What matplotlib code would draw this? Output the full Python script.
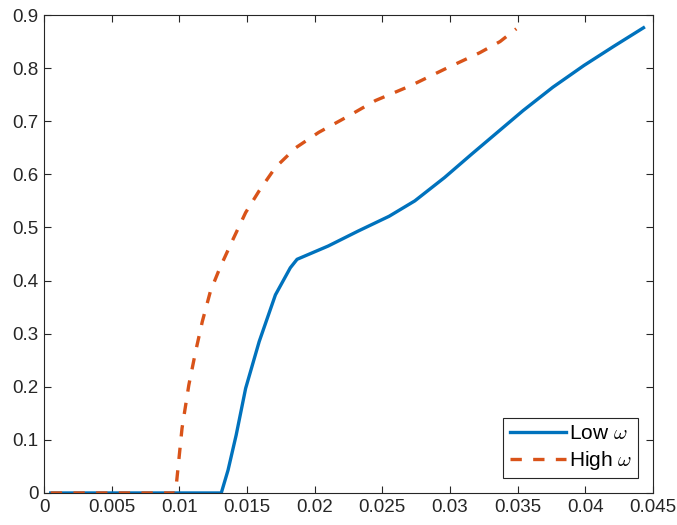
import matplotlib
matplotlib.use("Agg")
import matplotlib.pyplot as plt


# ==========================
# Data
# ==========================

low_x = [0.0005, 0.0131, 0.0136, 0.0142, 0.0149, 0.0159, 0.0171, 0.0182, 0.0187,
         0.0210, 0.0232, 0.0255, 0.0274, 0.0296, 0.0316, 0.0335, 0.0354, 0.0376,
         0.0399, 0.0421, 0.0443]
low_y = [0.0, 0.0, 0.043, 0.109, 0.197, 0.285, 0.373, 0.424, 0.440,
         0.465, 0.493, 0.521, 0.550, 0.594, 0.638, 0.679, 0.720, 0.764,
         0.805, 0.841, 0.876]

high_x = [0.0005, 0.0097, 0.0098, 0.0102, 0.0107, 0.0112, 0.0117, 0.0123, 0.0130,
          0.0139, 0.0149, 0.0159, 0.0171, 0.0186, 0.0203, 0.0223, 0.0245, 0.0271,
          0.0296, 0.0322, 0.0337, 0.0349]
high_y = [0.0, 0.0, 0.021, 0.122, 0.203, 0.266, 0.323, 0.380, 0.424,
          0.474, 0.528, 0.569, 0.613, 0.650, 0.679, 0.707, 0.739, 0.767,
          0.798, 0.829, 0.850, 0.874]

x_ticks = [0, 0.005, 0.01, 0.015, 0.02, 0.025, 0.03, 0.035, 0.04, 0.045]
x_labels = ["0", "0.005", "0.01", "0.015", "0.02", "0.025", "0.03", "0.035", "0.04", "0.045"]
y_ticks = [0, 0.1, 0.2, 0.3, 0.4, 0.5, 0.6, 0.7, 0.8, 0.9]
y_labels = ["0", "0.1", "0.2", "0.3", "0.4", "0.5", "0.6", "0.7", "0.8", "0.9"]


# ==========================
# Style
# ==========================

plt.rcParams["font.family"] = ["Liberation Sans", "DejaVu Sans"]
plt.rcParams["mathtext.fontset"] = "cm"
grey = "#262626"


# ==========================
# Plot
# ==========================

fig = plt.figure(figsize=(6.77, 5.25), dpi=100)
ax = fig.add_axes([0.065, 0.061, 0.8995, 0.9104])

ax.plot(low_x, low_y, color="#0072BD", lw=2.4, label=r"Low $\omega$")
ax.plot(high_x, high_y, color="#D95319", lw=2.4, dashes=(3.4, 3.4),
        label=r"High $\omega$")

ax.set_xlim(0, 0.045)
ax.set_ylim(0, 0.9)
ax.set_xticks(x_ticks)
ax.set_xticklabels(x_labels)
ax.set_yticks(y_ticks)
ax.set_yticklabels(y_labels)

ax.tick_params(direction="in", length=5, width=0.8, colors=grey,
               labelsize=13.5, top=True, right=True, pad=4)
for s in ax.spines.values():
    s.set_color(grey)
    s.set_linewidth(0.8)

leg = ax.legend(loc="lower right", fontsize=15, handlelength=2.7,
                fancybox=False, framealpha=1, edgecolor=grey,
                borderaxespad=0.7, handletextpad=0.15, borderpad=0.3,
                labelspacing=0.3)
leg.get_frame().set_linewidth(0.8)

fig.savefig("out.png", dpi=100)
